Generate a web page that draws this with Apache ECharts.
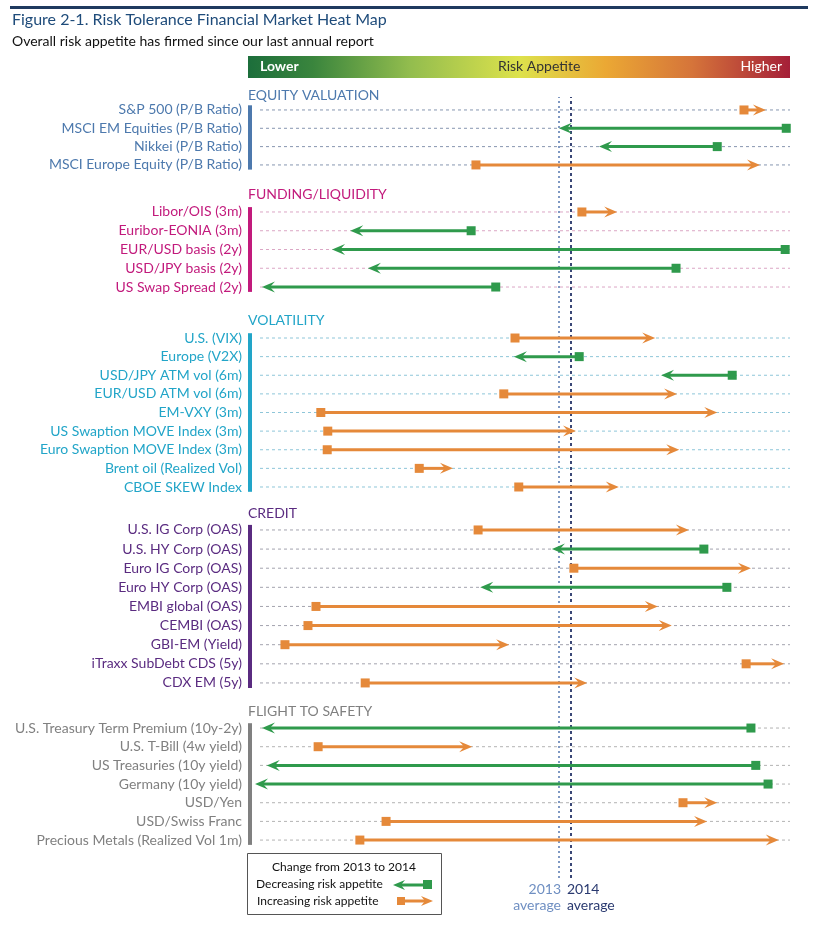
<!DOCTYPE html>
<html><head><meta charset="utf-8">
<script src="https://cdn.jsdelivr.net/npm/echarts@6/dist/echarts.min.js"></script>
<style>html,body{margin:0;padding:0;background:#fff}#c{width:825px;height:925px}</style>
</head><body><div id="c"></div>
<script>
// ---- data (risk-appetite scale 0 = lowest, 100 = highest) ----
const sectionTitles = ["EQUITY VALUATION","FUNDING/LIQUIDITY","VOLATILITY","CREDIT","FLIGHT TO SAFETY"];

const equityLabels = ["S&P 500 (P/B Ratio)","MSCI EM Equities (P/B Ratio)","Nikkei (P/B Ratio)","MSCI Europe Equity (P/B Ratio)"];
const equity2013 = [91.4, 99.3, 86.4, 41.3];
const equity2014 = [95.5, 56.8, 64.3, 94.4];

const fundingLabels = ["Libor/OIS (3m)","Euribor-EONIA (3m)","EUR/USD basis (2y)","USD/JPY basis (2y)","US Swap Spread (2y)"];
const funding2013 = [61.1, 40.4, 99.1, 78.7, 45.0];
const funding2014 = [67.7, 17.8, 14.4, 21.1, 1.3];

const volLabels = ["U.S. (VIX)","Europe (V2X)","USD/JPY ATM vol (6m)","EUR/USD ATM vol (6m)","EM-VXY (3m)","US Swaption MOVE Index (3m)","Euro Swaption MOVE Index (3m)","Brent oil (Realized Vol)","CBOE SKEW Index"];
const vol2013 = [48.6, 60.6, 89.2, 46.5, 12.3, 13.6, 13.5, 30.7, 49.3];
const vol2014 = [74.8, 48.4, 75.9, 78.9, 86.4, 60.0, 79.3, 37.0, 68.0];

const creditLabels = ["U.S. IG Corp (OAS)","U.S. HY Corp (OAS)","Euro IG Corp (OAS)","Euro HY Corp (OAS)","EMBI global (OAS)","CEMBI (OAS)","GBI-EM (Yield)","iTraxx SubDebt CDS (5y)","CDX EM (5y)"];
const credit2013 = [41.7, 83.9, 59.6, 88.2, 11.4, 9.9, 5.6, 91.8, 20.6];
const credit2014 = [81.1, 55.5, 92.7, 42.1, 75.3, 77.9, 47.5, 98.9, 62.1];

const flightLabels = ["U.S. Treasury Term Premium (10y-2y)","U.S. T-Bill (4w yield)","US Treasuries (10y yield)","Germany (10y yield)","USD/Yen","USD/Swiss Franc","Precious Metals (Realized Vol 1m)"];
const flight2013 = [92.7, 11.8, 93.6, 95.9, 80.0, 24.5, 19.6];
const flight2014 = [1.3, 40.6, 2.2, 0.0, 86.4, 84.5, 97.9];

const avg2013 = 56.8;
const avg2014 = 59.1;

// ---- styling / layout ----
const FONT = 'Lato';
const GREEN = '#2f9a4c';
const ORANGE = '#e5893a';
const sections = [
  {labels: equityLabels, a: equity2013, b: equity2014, color:'#4d79ad', dash:'#8796b0', top:100.8, height:73.3, titleY:95},
  {labels: fundingLabels, a: funding2013, b: funding2014, color:'#c21a7c', dash:'#dba7c5', top:202.6, height:93.8, titleY:194},
  {labels: volLabels, a: vol2013, b: vol2014, color:'#22a5c8', dash:'#8ec6d9', top:328.7, height:167.6, titleY:320},
  {labels: creditLabels, a: credit2013, b: credit2014, color:'#5a2b80', dash:'#a3a3ae', top:520.4, height:172.1, titleY:513},
  {labels: flightLabels, a: flight2013, b: flight2014, color:'#808080', dash:'#b3b3b3', top:718.7, height:130.7, titleY:711}
];

const grids = [], xAxes = [], yAxes = [], series = [], graphics = [];

function renderArrow(dashColor, barColor){
  return function(params, api){
    const cat = api.value(0), a = api.value(1), b = api.value(2);
    const p0 = api.coord([a, cat]), p1 = api.coord([b, cat]);
    const cs = params.coordSys;
    const y = p0[1];
    const dir = b > a ? 1 : -1;
    const color = dir > 0 ? ORANGE : GREEN;
    const hl = 13, hw = 5.5;
    const children = [
      {type:'line', shape:{x1:cs.x+5, y1:y, x2:cs.x+cs.width, y2:y}, style:{stroke:dashColor, lineWidth:1, lineDash:[3,3]}},
      {type:'line', shape:{x1:p0[0], y1:y, x2:p1[0]-dir*hl*0.6, y2:y}, style:{stroke:color, lineWidth:3}},
      {type:'polygon', shape:{points:[[p1[0],y],[p1[0]-dir*hl,y-hw],[p1[0]-dir*hl*0.62,y],[p1[0]-dir*hl,y+hw]]}, style:{fill:color}},
      {type:'rect', shape:{x:p0[0]-4.5, y:y-4.5, width:9, height:9}, style:{fill:color}}
    ];
    if (params.dataIndex === 0) {
      children.unshift({type:'rect', shape:{x:cs.x-7, y:cs.y+4.5, width:4, height:cs.height-9}, style:{fill:barColor}});
    }
    return {type:'group', children};
  };
}

sections.forEach((s, i) => {
  grids.push({left:255, right:35, top:s.top, height:s.height});
  xAxes.push({type:'value', gridIndex:i, min:0, max:100, show:false});
  yAxes.push({type:'category', gridIndex:i, data:s.labels, inverse:true,
    axisLine:{show:false},
    axisTick:{show:false}, splitLine:{show:false},
    axisLabel:{color:s.color, fontSize:14, fontFamily:FONT, margin:13}});
  series.push({type:'custom', xAxisIndex:i, yAxisIndex:i, z:5, clip:false,
    renderItem: renderArrow(s.dash, s.color),
    encode:{x:[1,2], y:0},
    data: s.labels.map((l, k) => [k, s.a[k], s.b[k]])});
  graphics.push({type:'text', left:248, top:s.titleY-7, style:{text:sectionTitles[i], fill:s.color, font:'14px '+FONT}});
});

// overlay grid for the average lines
grids.push({left:255, right:35, top:97, height:781});
xAxes.push({type:'value', gridIndex:5, min:0, max:100, show:false});
yAxes.push({type:'value', gridIndex:5, min:0, max:1, show:false});
series.push({type:'scatter', xAxisIndex:5, yAxisIndex:5, z:1, symbolSize:0, silent:true,
  data:[[avg2013, 0],[avg2014, 0]],
  markLine:{symbol:'none', silent:true, label:{show:false}, animation:false,
    data:[
      {xAxis:avg2013, lineStyle:{color:'#7f98c2', type:[2,3], width:2}},
      {xAxis:avg2014, lineStyle:{color:'#3a4776', type:[3,3], width:2}}
    ]}});

// header graphics
graphics.push(
  {type:'rect', shape:{x:10, y:6, width:798, height:3}, style:{fill:'#1f3a5f'}},
  {type:'text', left:12, top:12, style:{text:'Figure 2-1. Risk Tolerance Financial Market Heat Map', fill:'#1e4b7a', font:'16px '+FONT}},
  {type:'text', left:12, top:34, style:{text:'Overall risk appetite has firmed since our last annual report', fill:'#111', font:'14px '+FONT}},
  {type:'rect', shape:{x:248, y:56, width:542, height:22}, style:{fill:new echarts.graphic.LinearGradient(0,0,1,0,[
    {offset:0, color:'#1c6e3b'},{offset:0.12, color:'#3a853d'},{offset:0.3, color:'#93bd4e'},{offset:0.5, color:'#dde24c'},
    {offset:0.66, color:'#eba834'},{offset:0.82, color:'#d5743a'},{offset:1, color:'#a51f38'}])}},
  {type:'text', left:260, top:59, style:{text:'Lower', fill:'#fff', font:'bold 14px '+FONT}},
  {type:'text', left:498, top:59, style:{text:'Risk Appetite', fill:'#333', font:'14px '+FONT}},
  {type:'text', x:782, y:59, style:{text:'Higher', fill:'#fff', font:'14px '+FONT, textAlign:'right'}},
  // average labels
  {type:'text', x:561, y:882, style:{text:'2013', fill:'#6f8fc2', font:'14px '+FONT, textAlign:'right'}},
  {type:'text', x:561, y:898, style:{text:'average', fill:'#6f8fc2', font:'14px '+FONT, textAlign:'right'}},
  {type:'text', x:567, y:882, style:{text:'2014', fill:'#2a3a70', font:'14px '+FONT}},
  {type:'text', x:567, y:898, style:{text:'average', fill:'#2a3a70', font:'14px '+FONT}},
  // legend box
  {type:'rect', shape:{x:247.5, y:853.5, width:194, height:61}, style:{fill:'none', stroke:'#555', lineWidth:1}},
  {type:'text', x:344, y:861, style:{text:'Change from 2013 to 2014', fill:'#111', font:'12px '+FONT, textAlign:'center'}},
  {type:'text', x:256, y:878, style:{text:'Decreasing risk appetite', fill:'#111', font:'12px '+FONT}},
  {type:'text', x:257, y:895, style:{text:'Increasing risk appetite', fill:'#111', font:'12px '+FONT}},
  {type:'line', shape:{x1:424, y1:885, x2:401, y2:885}, style:{stroke:GREEN, lineWidth:3}},
  {type:'polygon', shape:{points:[[393,885],[405,880],[401,885],[405,890]]}, style:{fill:GREEN}},
  {type:'rect', shape:{x:423, y:880, width:9, height:9}, style:{fill:GREEN}},
  {type:'line', shape:{x1:401, y1:901, x2:426, y2:901}, style:{stroke:ORANGE, lineWidth:3}},
  {type:'polygon', shape:{points:[[433,901],[421,896],[425,901],[421,906]]}, style:{fill:ORANGE}},
  {type:'rect', shape:{x:397, y:897, width:8, height:8}, style:{fill:ORANGE}}
);

const chart = echarts.init(document.getElementById('c'), null, {renderer:'canvas'});
chart.setOption({
  animation:false,
  backgroundColor:'#fff',
  textStyle:{fontFamily:FONT},
  grid:grids, xAxis:xAxes, yAxis:yAxes, series:series, graphic:graphics
});
</script></body></html>
